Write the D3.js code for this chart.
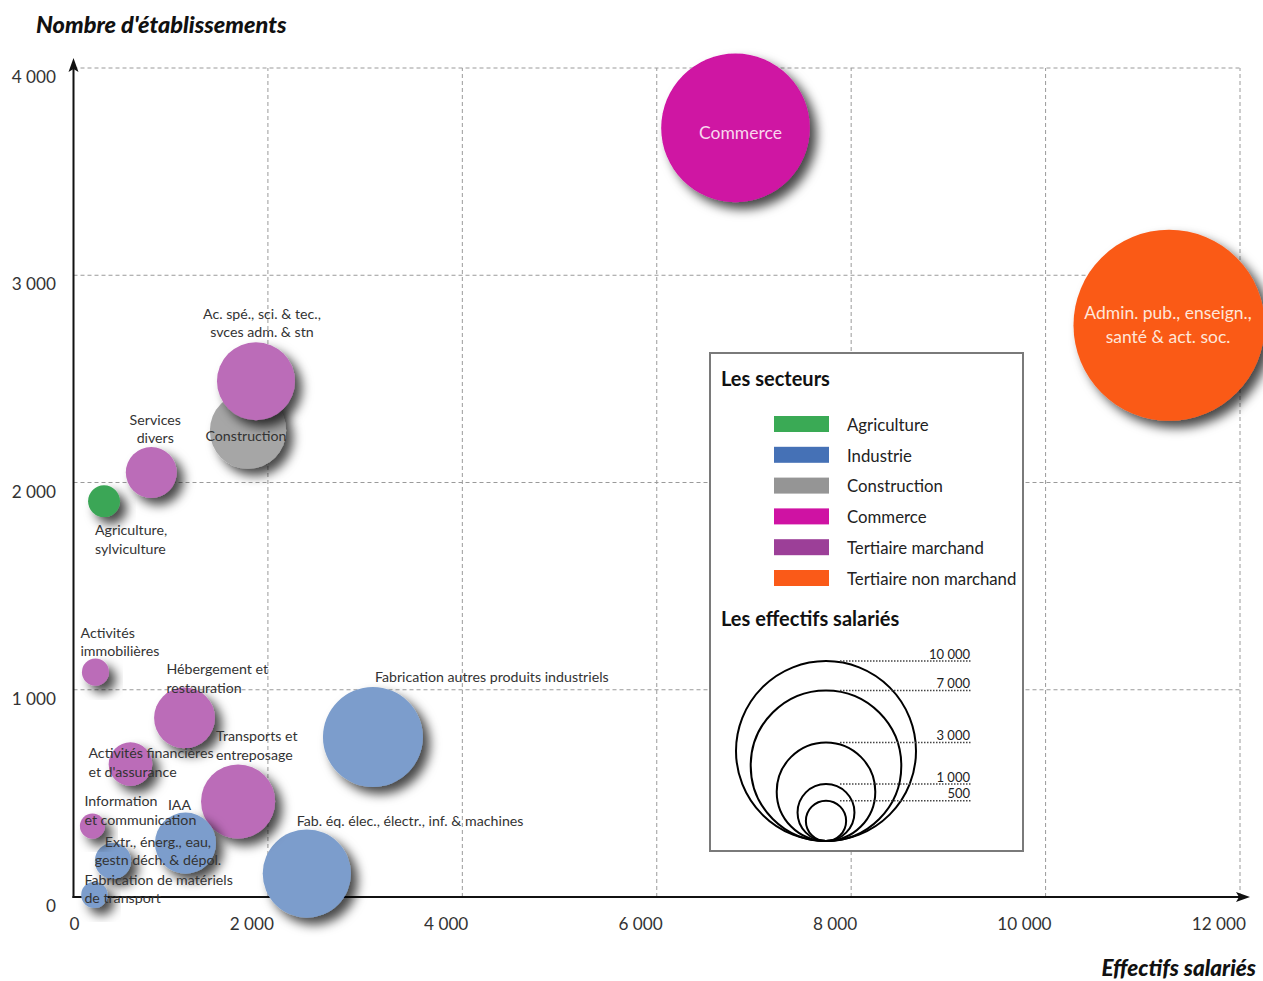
<!DOCTYPE html>
<html lang="fr">
<head>
<meta charset="utf-8">
<title>Établissements et effectifs salariés par secteur</title>
<script src="https://cdn.jsdelivr.net/npm/d3@7"></script>
<style>
  html, body { margin: 0; padding: 0; background: #fff; }
  svg { display: block; font-family: Lato, "Open Sans", sans-serif; }
</style>
</head>
<body>
<svg id="chart" width="1263" height="981"></svg>
<script>
// Secteurs d'activité : nom, secteur, effectifs salariés, nombre d'établissements
const activites = [
  "Admin. pub., enseign., santé & act. soc.",
  "Commerce",
  "Fabrication autres produits industriels",
  "Fab. éq. élec., électr., inf. & machines",
  "Construction",
  "Ac. spé., sci. & tec., svces adm. & stn",
  "Transports et entreposage",
  "Hébergement et restauration",
  "IAA",
  "Services divers",
  "Activités financières et d'assurance",
  "Extr., énerg., eau, gestn déch. & dépol.",
  "Agriculture, sylviculture",
  "Activités immobilières",
  "Information et communication",
  "Fabrication de matériels de transport"
];
const secteurs = [
  "Tertiaire non marchand", "Commerce", "Industrie", "Industrie",
  "Construction", "Tertiaire marchand", "Tertiaire marchand", "Tertiaire marchand",
  "Industrie", "Tertiaire marchand", "Tertiaire marchand", "Industrie",
  "Agriculture", "Tertiaire marchand", "Tertiaire marchand", "Industrie"
];
const effectifs = [11270, 6810, 3080, 2400, 1795, 1877, 1693, 1142, 1152, 800, 586, 406, 314, 226, 195, 215];
const etablissements = [2759, 3711, 772, 113, 2250, 2489, 461, 864, 260, 2048, 641, 174, 1910, 1085, 342, 10];

// Légende
const legendeSecteurs = ["Agriculture", "Industrie", "Construction", "Commerce", "Tertiaire marchand", "Tertiaire non marchand"];
const legendeEffectifs = [10000, 7000, 3000, 1000, 500];

// Graduations
const xTicks = [0, 2000, 4000, 6000, 8000, 10000, 12000];
const yTicks = [0, 1000, 2000, 3000, 4000];

// Couleurs : pastille de légende et remplissage des bulles
const couleurLegende = {
  "Agriculture": "#3aaa55",
  "Industrie": "#4571b6",
  "Construction": "#959595",
  "Commerce": "#cf12a3",
  "Tertiaire marchand": "#9c3f98",
  "Tertiaire non marchand": "#fa5a18"
};
const couleurBulle = {
  "Agriculture": "#3ba657",
  "Industrie": "#7b9dcc",
  "Construction": "#a6a6a6",
  "Commerce": "#cf12a3",
  "Tertiaire marchand": "#bb6cb8",
  "Tertiaire non marchand": "#fa5a18"
};

// Placement des étiquettes, en pixels depuis le centre de la bulle
const etiquettes = {
  "Admin. pub., enseign., santé & act. soc.": { lines: ["Admin. pub., enseign.,", "santé & act. soc."], dx: -1, dy: [-12, 12], anchor: "middle", inside: true, size: 17.5, color: "#ffe6d8" },
  "Commerce": { lines: ["Commerce"], dx: 5, dy: [5], anchor: "middle", inside: true, size: 17.5, color: "#f9d6ef" },
  "Fabrication autres produits industriels": { lines: ["Fabrication autres produits industriels"], dx: 2, dy: [-60], anchor: "start" },
  "Fab. éq. élec., électr., inf. & machines": { lines: ["Fab. éq. élec., électr., inf. & machines"], dx: -10, dy: [-53], anchor: "start" },
  "Construction": { lines: ["Construction"], dx: -2, dy: [5], anchor: "middle" },
  "Ac. spé., sci. & tec., svces adm. & stn": { lines: ["Ac. spé., sci. & tec.,", "svces adm. & stn"], dx: 6, dy: [-67, -49], anchor: "middle" },
  "Transports et entreposage": { lines: ["Transports et", "entreposage"], dx: -22, dy: [-65, -46], anchor: "start" },
  "Hébergement et restauration": { lines: ["Hébergement et", "restauration"], dx: -18, dy: [-49, -30], anchor: "start" },
  "IAA": { lines: ["IAA"], dx: -6, dy: [-38.5], anchor: "middle" },
  "Services divers": { lines: ["Services", "divers"], dx: 4, dy: [-53, -35], anchor: "middle" },
  "Activités financières et d'assurance": { lines: ["Activités financières", "et d'assurance"], dx: -42, dy: [-11, 8], anchor: "start" },
  "Extr., énerg., eau, gestn déch. & dépol.": { lines: ["Extr., énerg., eau,", "gestn déch. & dépol."], dx: 45, dy: [-19, -1], anchor: "middle" },
  "Agriculture, sylviculture": { lines: ["Agriculture,", "sylviculture"], dx: -9, dy: [29, 48], anchor: "start" },
  "Activités immobilières": { lines: ["Activités", "immobilières"], dx: -15, dy: [-39, -21], anchor: "start" },
  "Information et communication": { lines: ["Information", "et communication"], dx: -8, dy: [-25, -6], anchor: "start" },
  "Fabrication de matériels de transport": { lines: ["Fabrication de matériels", "de transport"], dx: -10, dy: [-15, 3], anchor: "start" }
};

const svg = d3.select("#chart");

const x = d3.scaleLinear().domain([0, 12000]).range([73.5, 1240]);
const y = d3.scaleLinear().domain([0, 4000]).range([897, 68]);
const r = d3.scaleSqrt().domain([0, 10000]).range([0, 90]);

const fmt = d => d3.format(",")(d).replace(/,/g, " ");

// Ombre portée des bulles
const defs = svg.append("defs");
defs.append("filter")
  .attr("id", "ombre")
  .attr("x", "-50%").attr("y", "-50%").attr("width", "200%").attr("height", "200%")
  .append("feDropShadow")
  .attr("dx", 7).attr("dy", 7).attr("stdDeviation", 5.5)
  .attr("flood-color", "#000").attr("flood-opacity", 0.72);

// Quadrillage pointillé
const grid = svg.append("g").attr("stroke", "#9a9a9a").attr("stroke-width", 1).attr("stroke-dasharray", "4,3");
grid.selectAll("line.h").data(yTicks.filter(d => d > 0)).join("line")
  .attr("class", "h")
  .attr("x1", x(0)).attr("x2", x(12000))
  .attr("y1", d => y(d)).attr("y2", d => y(d));
grid.selectAll("line.v").data(xTicks.filter(d => d > 0)).join("line")
  .attr("class", "v")
  .attr("x1", d => x(d)).attr("x2", d => x(d))
  .attr("y1", y(0)).attr("y2", y(4000));

// Graduations
svg.append("g").selectAll("text").data(yTicks).join("text")
  .attr("x", 56).attr("y", d => y(d) + 9)
  .attr("dy", "0.35em").attr("text-anchor", "end")
  .attr("font-size", 17.2).attr("fill", "#333")
  .text(fmt);
svg.append("g").selectAll("text").data(xTicks).join("text")
  .attr("x", d => x(d) + 6).attr("y", 924)
  .attr("dy", "0.35em").attr("text-anchor", "end")
  .attr("font-size", 17.2).attr("fill", "#333")
  .text(fmt);

// Axes avec flèches
const axes = svg.append("g");
axes.append("line")
  .attr("x1", x(0)).attr("x2", x(0)).attr("y1", y(0) + 1).attr("y2", 66)
  .attr("stroke", "#111").attr("stroke-width", 2);
axes.append("path")
  .attr("d", `M${x(0)},58 L${x(0) - 5},72 L${x(0)},69 L${x(0) + 5},72 Z`)
  .attr("fill", "#111");
axes.append("line")
  .attr("x1", x(0) - 1).attr("x2", 1241).attr("y1", y(0)).attr("y2", y(0))
  .attr("stroke", "#111").attr("stroke-width", 2);
axes.append("path")
  .attr("d", `M1250,${y(0)} L1236,${y(0) - 5} L1239,${y(0)} L1236,${y(0) + 5} Z`)
  .attr("fill", "#111");

// Titres des axes
svg.append("text")
  .attr("x", 36).attr("y", 25).attr("dy", "0.35em")
  .attr("font-size", 23.5).attr("font-weight", "900").attr("font-style", "italic")
  .attr("fill", "#111")
  .text("Nombre d'établissements");
svg.append("text")
  .attr("x", 1256).attr("y", 968).attr("dy", "0.35em").attr("text-anchor", "end")
  .attr("font-size", 22.5).attr("font-weight", "900").attr("font-style", "italic")
  .attr("fill", "#111")
  .text("Effectifs salariés");

// Bulles
const data = activites.map((nom, i) => ({
  nom, secteur: secteurs[i], effectifs: effectifs[i], etablissements: etablissements[i]
}));

svg.append("g").selectAll("circle").data(data).join("circle")
  .attr("cx", d => x(d.effectifs))
  .attr("cy", d => y(d.etablissements))
  .attr("r", d => r(d.effectifs))
  .attr("fill", d => couleurBulle[d.secteur])
  .attr("filter", "url(#ombre)");

// Étiquettes des bulles
const lab = svg.append("g");
data.forEach(d => {
  const e = etiquettes[d.nom];
  const cx = x(d.effectifs), cy = y(d.etablissements);
  e.lines.forEach((line, k) => {
    lab.append("text")
      .attr("x", cx + e.dx).attr("y", cy + e.dy[k]).attr("dy", "0.35em")
      .attr("text-anchor", e.anchor)
      .attr("font-size", e.size || 14.2)
      .attr("fill", e.color || "#333")
      .text(line);
  });
});

// Cadre de légende
const leg = svg.append("g");
leg.append("rect")
  .attr("x", 710).attr("y", 353).attr("width", 313).attr("height", 498)
  .attr("fill", "#fff").attr("stroke", "#7a7a7a").attr("stroke-width", 2);

leg.append("text")
  .attr("x", 721).attr("y", 379).attr("dy", "0.35em")
  .attr("font-size", 20).attr("font-weight", "bold").attr("fill", "#111")
  .text("Les secteurs");

const legRow = d3.scaleLinear().domain([0, 5]).range([424, 578]);
leg.selectAll("rect.sw").data(legendeSecteurs).join("rect")
  .attr("class", "sw")
  .attr("x", 774).attr("y", (d, i) => legRow(i) - 8)
  .attr("width", 55).attr("height", 16)
  .attr("fill", d => couleurLegende[d]);
leg.selectAll("text.sw").data(legendeSecteurs).join("text")
  .attr("class", "sw")
  .attr("x", 847).attr("y", (d, i) => legRow(i) + 1).attr("dy", "0.35em")
  .attr("font-size", 16.8).attr("fill", "#222")
  .text(d => d);

leg.append("text")
  .attr("x", 721).attr("y", 619).attr("dy", "0.35em")
  .attr("font-size", 20).attr("font-weight", "bold").attr("fill", "#111")
  .text("Les effectifs salariés");

// Cercles de taille emboîtés
const baseX = 826, baseY = 841;
leg.selectAll("circle").data(legendeEffectifs).join("circle")
  .attr("cx", baseX).attr("cy", d => baseY - r(d)).attr("r", d => r(d))
  .attr("fill", "none").attr("stroke", "#000").attr("stroke-width", 2);
leg.selectAll("line.tick").data(legendeEffectifs).join("line")
  .attr("class", "tick")
  .attr("x1", baseX + 14).attr("x2", 971)
  .attr("y1", d => baseY - 2 * r(d)).attr("y2", d => baseY - 2 * r(d))
  .attr("stroke", "#444").attr("stroke-width", 1.5).attr("stroke-dasharray", "1.5,1.5");
leg.selectAll("text.tick").data(legendeEffectifs).join("text")
  .attr("class", "tick")
  .attr("x", 970).attr("y", d => baseY - 2 * r(d) - 7).attr("dy", "0.35em")
  .attr("text-anchor", "end").attr("font-size", 13).attr("fill", "#222")
  .text(fmt);
</script>
</body>
</html>
